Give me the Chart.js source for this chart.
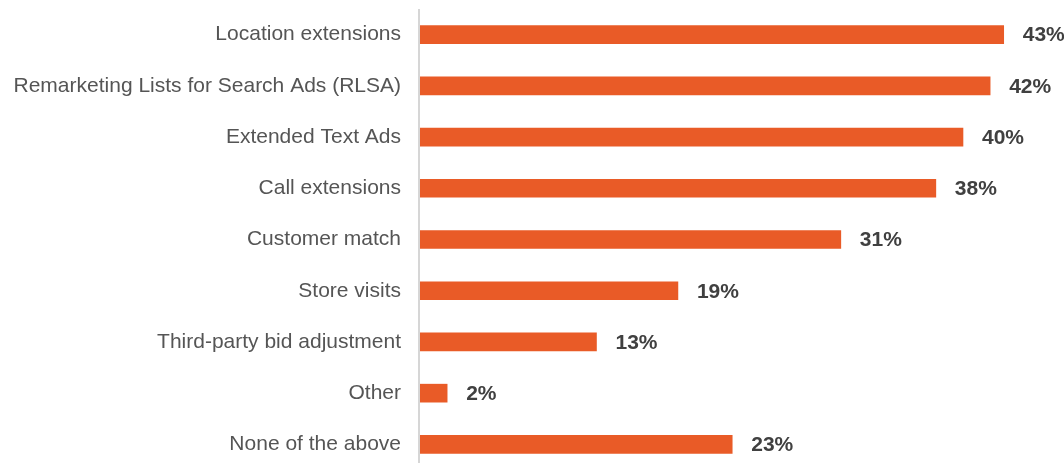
<!DOCTYPE html>
<html>
<head>
<meta charset="utf-8">
<script src="https://cdn.jsdelivr.net/npm/chart.js@4.4.1/dist/chart.umd.min.js"></script>
<style>
  html, body { margin: 0; padding: 0; background: #fff; overflow: hidden; }
  canvas { display: block; }
</style>
</head>
<body>
<canvas id="chart" width="1064" height="470"></canvas>
<script>
// Share of respondents using each feature
const categories = [
  "Location extensions",
  "Remarketing Lists for Search Ads (RLSA)",
  "Extended Text Ads",
  "Call extensions",
  "Customer match",
  "Store visits",
  "Third-party bid adjustment",
  "Other",
  "None of the above"
];
const shares = [43, 42, 40, 38, 31, 19, 13, 2, 23];

const BAR_COLOR = "#E95B27";
const LABEL_FONT = "Liberation Sans, Arial, Helvetica, sans-serif";

// Bold percentage text placed just past the end of each bar
const valueLabels = {
  id: "valueLabels",
  afterDatasetsDraw(chart) {
    const ctx = chart.ctx;
    const meta = chart.getDatasetMeta(0);
    const xScale = chart.scales.x;
    ctx.save();
    ctx.font = "bold 21px " + LABEL_FONT;
    ctx.fillStyle = "#404040";
    ctx.textBaseline = "middle";
    ctx.textAlign = "left";
    meta.data.forEach((bar, i) => {
      const v = chart.data.datasets[0].data[i];
      ctx.fillText(v + "%", xScale.getPixelForValue(v) + 19, bar.y + 1);
    });
    ctx.restore();
  }
};

// Thin grey baseline at the start of the bars
const baseline = {
  id: "baseline",
  beforeDatasetsDraw(chart) {
    const ctx = chart.ctx;
    const x = chart.scales.x.getPixelForValue(0) - 1;
    ctx.save();
    ctx.strokeStyle = "#d6d6d6";
    ctx.lineWidth = 2;
    ctx.beginPath();
    ctx.moveTo(x, 9);
    ctx.lineTo(x, chart.height);
    ctx.stroke();
    ctx.restore();
  }
};

new Chart(document.getElementById("chart"), {
  type: "bar",
  data: {
    labels: categories,
    datasets: [{
      data: shares,
      backgroundColor: BAR_COLOR,
      borderWidth: 0,
      barThickness: 18
    }]
  },
  options: {
    indexAxis: "y",
    responsive: false,
    animation: false,
    layout: { padding: { top: 9, bottom: 0, left: 0, right: 6 } },
    plugins: { legend: { display: false }, tooltip: { enabled: false } },
    scales: {
      x: {
        min: 0,
        max: 47,
        display: false
      },
      y: {
        grid: { display: false, drawTicks: false },
        border: { display: false },
        ticks: {
          color: "#555555",
          padding: 19,
          autoSkip: false,
          font: { family: LABEL_FONT, size: 21 }
        },
        afterFit(scale) {
          scale.width = 420;
          // categories fill the full height; no extra room for label overhang
          scale.paddingTop = 0;
          scale.paddingBottom = 0;
        }
      }
    }
  },
  plugins: [baseline, valueLabels]
});
</script>
</body>
</html>
